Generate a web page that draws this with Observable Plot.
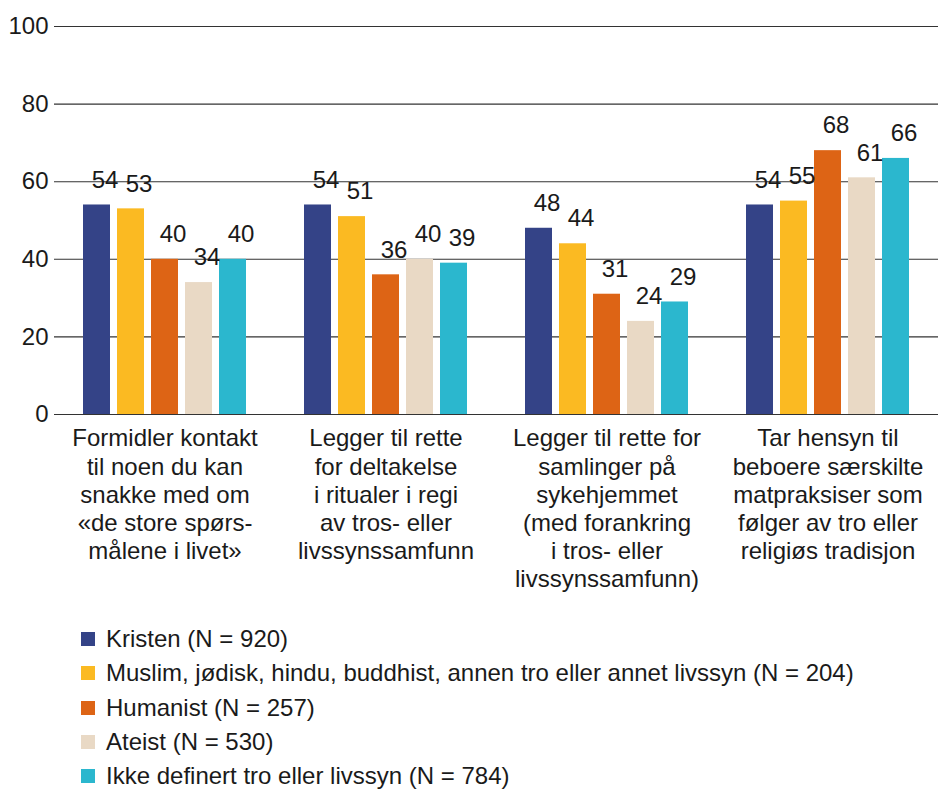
<!DOCTYPE html>
<html><head><meta charset="utf-8">
<script src="https://cdn.jsdelivr.net/npm/d3@7"></script>
<script src="https://cdn.jsdelivr.net/npm/@observablehq/plot@0.6"></script>
<style>
body{margin:0;background:#fff;font-family:"Liberation Sans",Arial,sans-serif;color:#1a1a1a;}
#chart svg{display:block;overflow:visible;}
.legend{margin-top:17px;margin-left:81px;}
.legend .row{display:flex;align-items:center;height:34.3px;font-size:24px;line-height:24px;white-space:nowrap;}
.legend .sw{width:14px;height:14px;margin-right:11px;flex:none;}
</style></head><body><div id="chart"></div><div class="legend" id="legend"></div>
<script>
const categories = ["Formidler", "Deltakelse", "Samlinger", "Matpraksiser"];
const categoryLabels = [
  "Formidler kontakt\ntil noen du kan\nsnakke med om\n«de store spørs-\nmålene i livet»",
  "Legger til rette\nfor deltakelse\ni ritualer i regi\nav tros- eller\nlivssynssamfunn",
  "Legger til rette for\nsamlinger på\nsykehjemmet\n(med forankring\ni tros- eller\nlivssynssamfunn)",
  "Tar hensyn til\nbeboere særskilte\nmatpraksiser som\nfølger av tro eller\nreligiøs tradisjon"
];
const series = ["Kristen", "Muslim", "Humanist", "Ateist", "Ikke definert"];
const seriesLabels = [
  "Kristen (N = 920)",
  "Muslim, jødisk, hindu, buddhist, annen tro eller annet livssyn (N = 204)",
  "Humanist (N = 257)",
  "Ateist (N = 530)",
  "Ikke definert tro eller livssyn (N = 784)"
];
const colors = ["#344387", "#FBBA22", "#DD6415", "#E9D9C5", "#2BB7CE"];
const kristen = [54, 54, 48, 54];
const muslim = [53, 51, 44, 55];
const humanist = [40, 36, 31, 68];
const ateist = [34, 40, 24, 61];
const ikkeDefinert = [40, 39, 29, 66];
const yTicks = [0, 20, 40, 60, 80, 100];

const seriesValues = [kristen, muslim, humanist, ateist, ikkeDefinert];
const data = [];
categories.forEach((c, i) => series.forEach((s, j) => data.push({cat: c, s, v: seriesValues[j][i]})));
const labelRows = categories.map((c, i) => ({cat: c, label: categoryLabels[i]}));

const chart = Plot.plot({
  width: 938,
  height: 605,
  marginTop: 26,
  marginBottom: 191,
  marginLeft: 54,
  marginRight: 0,
  style: {fontSize: "24px", fontFamily: "Liberation Sans, Arial, sans-serif", color: "#1a1a1a", background: "#fff"},
  fx: {domain: categories, padding: 0, axis: null, label: null},
  x: {domain: series, paddingInner: 0.217, paddingOuter: 0.81, axis: null},
  y: {domain: [0, 100], ticks: yTicks, tickSize: 0, tickPadding: 6, label: null},
  color: {domain: series, range: colors},
  marks: [
    Plot.ruleY(yTicks, {stroke: "#333", strokeWidth: 1.1}),
    Plot.barY(data, {fx: "cat", x: "s", y: "v", fill: "s"}),
    Plot.text(data, {fx: "cat", x: "s", y: "v", text: d => String(d.v), dy: -25, dx: 8, lineAnchor: "middle", fontSize: 24, fill: "#1a1a1a"}),
    Plot.text(labelRows, {fx: "cat", text: "label", frameAnchor: "bottom", lineAnchor: "top", dy: 12, lineHeight: 1.17, fontSize: 24, fill: "#1a1a1a"})
  ]
});
document.getElementById("chart").appendChild(chart);

const legend = document.getElementById("legend");
series.forEach((s, i) => {
  const row = document.createElement("div");
  row.className = "row";
  const sw = document.createElement("span");
  sw.className = "sw";
  sw.style.background = colors[i];
  const t = document.createElement("span");
  t.textContent = seriesLabels[i];
  row.appendChild(sw); row.appendChild(t);
  legend.appendChild(row);
});
</script></body></html>
